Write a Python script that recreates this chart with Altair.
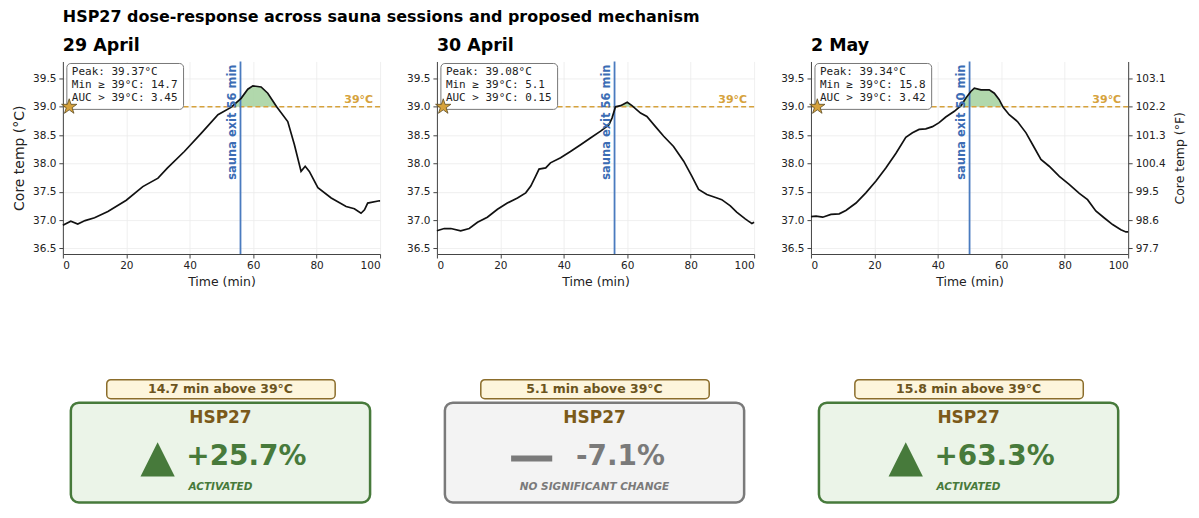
import altair as alt
import pandas as pd

# ---------------- data ----------------
dates = ["29 April", "30 April", "2 May"]
exit_min = [56, 56, 50]
peaks = [39.37, 39.08, 39.34]
min_above = [14.7, 5.1, 15.8]
auc_above = [3.45, 0.15, 3.42]
hsp27_change = [25.7, -7.1, 63.3]
hsp27_status = ["ACTIVATED", "NO SIGNIFICANT CHANGE", "ACTIVATED"]
hsp27_activated = [True, False, True]
threshold = 39.0
star_t = 2

t1 = [0, 2.5, 4.7, 7, 10, 14.2, 20, 25.2, 30, 33, 38.3, 43.6, 48.9, 53, 56.2, 58.3,
      59.9, 62.5, 64.6, 67.4, 70.9, 73, 75.1, 76.4, 77.7, 80.4, 84.6, 89.3, 91.9,
      94, 95.1, 96.1, 99.8, 100]
T1 = [36.91, 36.98, 36.93, 36.99, 37.04, 37.15, 37.35, 37.59, 37.74, 37.92, 38.21,
      38.53, 38.86, 38.99, 39.15, 39.31, 39.37, 39.35, 39.24, 39.0, 38.74, 38.33,
      37.86, 37.95, 37.86, 37.57, 37.39, 37.24, 37.2, 37.12, 37.18, 37.30, 37.34, 37.34]

t2 = [0, 2.3, 4.4, 7.5, 10.2, 12.8, 15.9, 19.1, 22.2, 25.4, 28, 29.6, 31.1, 32.2,
      34.3, 35.8, 39, 42.1, 45.3, 48.4, 51.6, 54.2, 55.2, 56.3, 57.9, 60, 61.5, 64.2,
      66.2, 68.9, 71.5, 74.6, 77.8, 80.4, 82.5, 85.1, 88.3, 89.8, 92.5, 94.5, 97.2,
      98.2, 99.3, 100]
T2 = [36.81, 36.85, 36.85, 36.81, 36.85, 36.96, 37.05, 37.19, 37.30, 37.39, 37.48,
      37.60, 37.77, 37.90, 37.92, 38.01, 38.10, 38.21, 38.33, 38.45, 38.57, 38.68,
      38.80, 39.0, 39.02, 39.08, 39.02, 38.89, 38.83, 38.65, 38.48, 38.30, 38.04,
      37.77, 37.54, 37.45, 37.39, 37.36, 37.25, 37.14, 37.02, 36.98, 36.94, 36.96]

t3 = [0, 1.6, 3.7, 6.3, 8.9, 11, 14.2, 17.3, 20.5, 23.6, 26.8, 29.9, 32, 34.1, 36.2,
      38.3, 40.4, 42.5, 45.2, 47.3, 48.8, 50.4, 51.5, 53.6, 56.2, 57.8, 59.3, 60.6,
      62.5, 65.1, 67.8, 69.9, 72.5, 75.1, 78.3, 81.4, 84.6, 87.2, 89.8, 92.4, 95.1,
      97.7, 99.3, 100]
T3 = [37.06, 37.07, 37.05, 37.10, 37.11, 37.17, 37.30, 37.48, 37.69, 37.92, 38.18,
      38.46, 38.54, 38.60, 38.61, 38.65, 38.72, 38.82, 38.92, 39.02, 39.15, 39.27,
      39.33, 39.30, 39.30, 39.24, 39.13, 38.99, 38.86, 38.74, 38.54, 38.33, 38.07,
      37.95, 37.77, 37.63, 37.47, 37.36, 37.16, 37.04, 36.92, 36.83, 36.79, 36.79]

times = [t1, t2, t3]
temps = [T1, T2, T3]

time_ticks = [0, 20, 40, 60, 80, 100]
c_ticks = [36.5, 37.0, 37.5, 38.0, 38.5, 39.0, 39.5]
f_ticks = [97.7, 98.6, 99.5, 100.4, 101.3, 102.2, 103.1]

# ---------------- styling ----------------
W, H = 318, 193
BW, BH = 318, 135
YDOM = [36.4, 39.8]
FDOM = [YDOM[0] * 1.8 + 32, YDOM[1] * 1.8 + 32]
GOLD = "#d6a23c"
BLUE = "#4a7bbf"
STAR = ("M0,-1L0.2245,-0.309L0.951,-0.309L0.363,0.118L0.588,0.809L0,0.382"
        "L-0.588,0.809L-0.363,0.118L-0.951,-0.309L-0.2245,-0.309Z")
TRI = "M0,-1L1,1L-1,1Z"
BAR = "M-1,-0.15L1,-0.15L1,0.15L-1,0.15Z"

xscale = alt.Scale(domain=[0, 100], nice=False)
yscale = alt.Scale(domain=YDOM, nice=False, zero=False)


def panel(i):
    df = pd.DataFrame({"t": times[i], "T": temps[i]})
    xaxis = alt.Axis(values=time_ticks, format="d", title="Time (min)")
    yaxis = alt.Axis(values=c_ticks, format=".1f",
                     title="Core temp (°C)" if i == 0 else None,
                     titleFontSize=14, titlePadding=6)

    def XQ(f):
        return alt.X(f, scale=xscale, axis=xaxis)

    def YQ(f):
        return alt.Y(f, scale=yscale, axis=yaxis)

    base = alt.Chart(df)
    area = base.transform_calculate(top=f"max(datum.T, {threshold})").mark_area(
        color="#a9d4a3", opacity=0.9
    ).encode(x=XQ("t:Q"), y=YQ("top:Q"), y2=alt.datum(threshold))
    line = base.mark_line(color="#111111", strokeWidth=1.7).encode(
        x=XQ("t:Q"), y=YQ("T:Q")
    )
    thr_df = pd.DataFrame({"y": [threshold], "lab": [f"{threshold:.0f}°C"], "st": [star_t]})
    thr = alt.Chart(thr_df).mark_rule(color=GOLD, strokeDash=[5, 3], strokeWidth=1.5).encode(
        y=YQ("y:Q")
    )
    thr_lab = alt.Chart(thr_df).mark_text(
        align="right", baseline="bottom", color=GOLD, fontWeight="bold", fontSize=11, dy=-2
    ).encode(x=alt.value(W - 7), y=YQ("y:Q"), text="lab:N")
    ex_df = pd.DataFrame({"ex": [exit_min[i]], "lab": [f"sauna exit {exit_min[i]} min"]})
    ex = alt.Chart(ex_df).mark_rule(color=BLUE, strokeWidth=1.8).encode(x=XQ("ex:Q"))
    ex_lab = alt.Chart(ex_df).mark_text(
        angle=270, align="right", baseline="bottom", color="#3b6cb4",
        fontWeight="bold", fontSize=11.5, dy=-3
    ).encode(x=XQ("ex:Q"), y=alt.value(3), text="lab:N")
    st_df = pd.DataFrame({
        "txt": [f"Peak: {peaks[i]:.2f}°C\nMin ≥ 39°C: {min_above[i]}\nAUC > 39°C: {auc_above[i]:.2f}"]
    })
    st_box = alt.Chart(st_df).mark_rect(
        fill="white", stroke="#777777", strokeWidth=1, cornerRadius=4
    ).encode(x=alt.value(4), x2=alt.value(121), y=alt.value(2), y2=alt.value(48))
    st_txt = alt.Chart(st_df).mark_text(
        align="left", baseline="top", font="DejaVu Sans Mono", fontSize=11,
        lineBreak="\n", lineHeight=13, color="#222222"
    ).encode(x=alt.value(9), y=alt.value(5), text="txt:N")
    star = alt.Chart(thr_df).mark_point(
        shape=STAR, filled=True, size=260, fill=GOLD, stroke="#5c4a1f",
        strokeWidth=0.8, opacity=1
    ).encode(x=XQ("st:Q"), y=YQ("y:Q"))

    ch = alt.layer(area, thr, ex, line, thr_lab, ex_lab, st_box, st_txt, star)
    if i == 2:
        fl = base.transform_calculate(F="datum.T * 1.8 + 32").mark_line(opacity=0).encode(
            x=XQ("t:Q"),
            y=alt.Y("F:Q", scale=alt.Scale(domain=FDOM, nice=False, zero=False),
                    axis=alt.Axis(orient="right", values=f_ticks, format=".1f",
                                  title="Core temp (°F)", titleAngle=270,
                                  titleBaseline="top", titleFontSize=12.5,
                                  titlePadding=8, grid=False))
        )
        ch = alt.layer(ch, fl).resolve_scale(y="independent")
    return ch.properties(
        width=W, height=H,
        title=alt.Title(dates[i], anchor="start", frame="group", fontSize=17.5,
                        fontWeight="bold", offset=6, color="#000000")
    )


def box(i):
    act = hsp27_activated[i]
    main_col = "#477a3b" if act else "#7a7a7a"
    fill_col = "#ebf4e8" if act else "#f3f3f3"
    bx = alt.Scale(domain=[0, BW], nice=False, zero=False)
    by = alt.Scale(domain=[0, BH], nice=False, zero=False, reverse=True)
    df = pd.DataFrame({
        "lab": [f"{min_above[i]} min above 39°C"],
        "name": ["HSP27"],
        "val": [f"{hsp27_change[i]:+.1f}%"],
        "status": [hsp27_status[i]],
    })
    b = alt.Chart(df)

    def X(v):
        return alt.X(datum=v, scale=bx, axis=None)

    def Y(v):
        return alt.Y(datum=v, scale=by, axis=None)

    lab_box = b.mark_rect(fill="#fdf5dc", stroke="#8b6d2b", strokeWidth=1.5, cornerRadius=4).encode(
        x=X(44), x2=alt.X2(datum=273), y=Y(5), y2=alt.Y2(datum=24))
    lab_txt = b.mark_text(fontSize=12.5, fontWeight="bold", color="#6b5420").encode(
        x=X(158), y=Y(14.5), text="lab:N")
    main_box = b.mark_rect(fill=fill_col, stroke=main_col, strokeWidth=2.5, cornerRadius=8).encode(
        x=X(8), x2=alt.X2(datum=308), y=Y(28), y2=alt.Y2(datum=128))
    name_txt = b.mark_text(fontSize=17, fontWeight="bold", color="#7b5a1a").encode(
        x=X(158), y=Y(43), text="name:N")
    if act:
        sym = b.mark_point(shape=TRI, filled=True, size=1180, color=main_col, opacity=1).encode(
            x=X(95), y=Y(85))
    else:
        sym = b.mark_point(shape=BAR, filled=True, size=1700, color=main_col, opacity=1).encode(
            x=X(95), y=Y(84))
    val_txt = b.mark_text(fontSize=28, fontWeight="bold", color=main_col).encode(
        x=X(184), y=Y(83), text="val:N")
    st_txt = b.mark_text(fontSize=10.5, fontWeight="bold", fontStyle="italic", color=main_col).encode(
        x=X(158), y=Y(113), text="status:N")
    return alt.layer(lab_box, lab_txt, main_box, name_txt, sym, val_txt, st_txt).properties(
        width=BW, height=BH)


charts = [panel(i) for i in range(3)] + [box(i) for i in range(3)]

chart = alt.concat(
    *charts, columns=3, spacing=alt.RowColnumber(row=121, column=57), bounds="flush"
).properties(
    title=alt.Title("HSP27 dose-response across sauna sessions and proposed mechanism",
                    anchor="start", frame="group", fontSize=16, fontWeight="bold",
                    offset=12, color="#000000"),
    padding={"left": 4, "top": 0, "right": 5, "bottom": 0},
).configure(
    font="DejaVu Sans"
).configure_axis(
    labelFontSize=10.5, titleFontSize=12.5, labelColor="#222222", titleColor="#222222",
    titleFontWeight="normal", domainColor="#444444", tickColor="#444444",
    gridColor="#ebebeb", gridWidth=0.8, tickSize=4, labelPadding=3
).configure_view(stroke=None)

chart.save("out.html", embed_options={"renderer": "svg", "actions": False})
